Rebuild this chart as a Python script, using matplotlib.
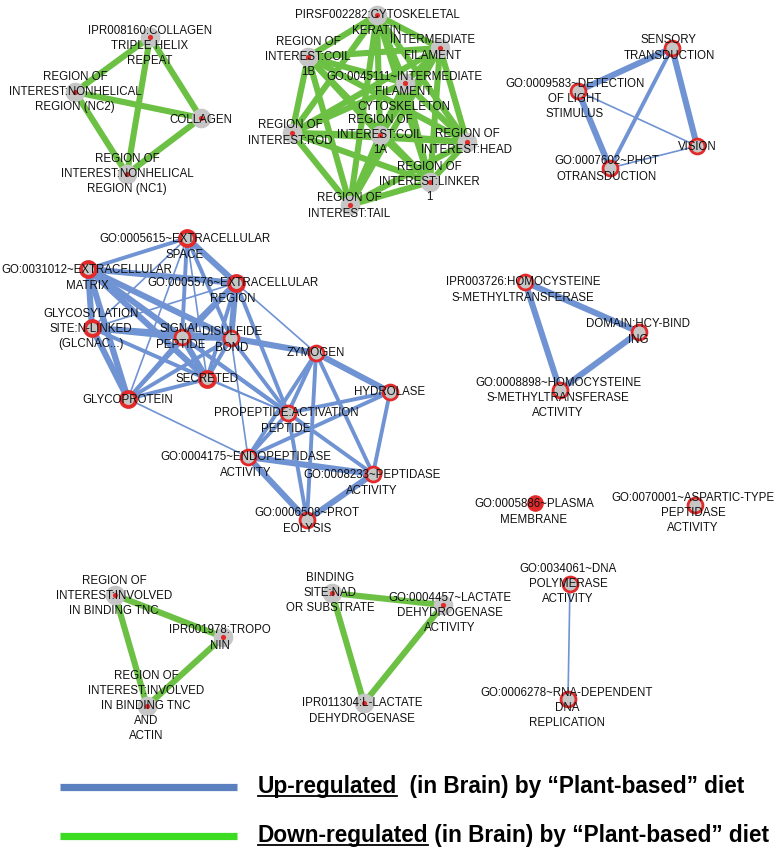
import matplotlib.pyplot as plt

W, H = 778, 849

# nodes: id, label text, node position, label centre (pixel layout of the network)
node_ids = [
    "coll_ipr", "nc2", "collagen", "nc1",
    "keratin", "intfil", "coil1b", "go45111", "rod", "coil1a", "head", "linker", "tail",
    "sensory", "detect", "vision", "photo",
    "space", "matrix", "region", "glycos", "signal", "disulf", "secreted", "glycoprot",
    "zymogen", "hydrolase", "propep", "endopep", "peptidase", "proteol",
    "ipr3726", "hcy", "go8898",
    "plasma", "aspartic",
    "tnc", "tropo", "tncactin",
    "nad", "ldhact", "ldh",
    "dnapol", "rnadep",
]
node_labels = [
    "IPR008160:COLLAGEN\nTRIPLE HELIX\nREPEAT", "REGION OF\nINTEREST:NONHELICAL\nREGION (NC2)",
    "COLLAGEN", "REGION OF\nINTEREST:NONHELICAL\nREGION (NC1)",
    "PIRSF002282:CYTOSKELETAL\nKERATIN", "INTERMEDIATE\nFILAMENT", "REGION OF\nINTEREST:COIL\n1B",
    "GO:0045111~INTERMEDIATE\nFILAMENT\nCYTOSKELETON", "REGION OF\nINTEREST:ROD",
    "REGION OF\nINTEREST:COIL\n1A", "REGION OF\nINTEREST:HEAD", "REGION OF\nINTEREST:LINKER\n1",
    "REGION OF\nINTEREST:TAIL",
    "SENSORY\nTRANSDUCTION", "GO:0009583~DETECTION\nOF LIGHT\nSTIMULUS", "VISION",
    "GO:0007602~PHOT\nOTRANSDUCTION",
    "GO:0005615~EXTRACELLULAR\nSPACE", "GO:0031012~EXTRACELLULAR\nMATRIX",
    "GO:0005576~EXTRACELLULAR\nREGION", "GLYCOSYLATION\nSITE:N-LINKED\n(GLCNAC...)",
    "SIGNAL\nPEPTIDE", "DISULFIDE\nBOND", "SECRETED", "GLYCOPROTEIN",
    "ZYMOGEN", "HYDROLASE", "PROPEPTIDE:ACTIVATION\nPEPTIDE", "GO:0004175~ENDOPEPTIDASE\nACTIVITY",
    "GO:0008233~PEPTIDASE\nACTIVITY", "GO:0006508~PROT\nEOLYSIS",
    "IPR003726:HOMOCYSTEINE\nS-METHYLTRANSFERASE", "DOMAIN:HCY-BIND\nING",
    "GO:0008898~HOMOCYSTEINE\nS-METHYLTRANSFERASE\nACTIVITY",
    "GO:0005886~PLASMA\nMEMBRANE", "GO:0070001~ASPARTIC-TYPE\nPEPTIDASE\nACTIVITY",
    "REGION OF\nINTEREST:INVOLVED\nIN BINDING TNC", "IPR001978:TROPO\nNIN",
    "REGION OF\nINTEREST:INVOLVED\nIN BINDING TNC\nAND\nACTIN",
    "BINDING\nSITE:NAD\nOR SUBSTRATE", "GO:0004457~LACTATE\nDEHYDROGENASE\nACTIVITY",
    "IPR011304:L-LACTATE\nDEHYDROGENASE",
    "GO:0034061~DNA\nPOLYMERASE\nACTIVITY", "GO:0006278~RNA-DEPENDENT\nDNA\nREPLICATION",
]
node_x = [150, 75, 201, 127,
          377, 440, 308, 405, 292, 380, 467, 430, 350,
          672, 578, 697, 610,
          187, 88, 236, 92, 182, 231, 207, 128,
          316, 390, 288, 248, 373, 307,
          525, 639, 560,
          535, 695,
          115, 223, 147,
          332, 443, 364,
          570, 568]
node_y = [37, 92, 118, 174,
          15, 48, 57, 83, 133, 135, 142, 182, 205,
          48, 91, 146, 168,
          238, 269, 283, 328, 337, 338, 379, 399,
          353, 392, 413, 457, 474, 520,
          282, 332, 390,
          503, 505,
          595, 637, 706,
          593, 605, 703,
          584, 699]
label_x = [150, 75, 201, 127,
           377, 433, 308, 404, 290, 380, 467, 429, 349,
           669, 575, 697, 607,
           185, 87, 233, 91, 181, 232, 207, 128,
           316, 390, 286, 246, 372, 307,
           523, 638, 558,
           534, 693,
           114, 220, 146,
           330, 450, 362,
           568, 567]
label_y = [46, 92, 120, 174,
           23, 48, 57, 92, 133, 135, 142, 182, 206,
           48, 99, 147, 169,
           247, 278, 291, 329, 337, 340, 379, 400,
           353, 392, 421, 465, 483, 521,
           290, 332, 398,
           512, 513,
           596, 638, 706,
           593, 613, 711,
           584, 708]
# regulation direction of each node's cluster
up_nodes = {"sensory", "detect", "vision", "photo", "space", "matrix", "region", "glycos",
            "signal", "disulf", "secreted", "glycoprot", "zymogen", "hydrolase", "propep",
            "endopep", "peptidase", "proteol", "ipr3726", "hcy", "go8898", "plasma",
            "aspartic", "dnapol", "rnadep"}
heavy_ring = {"glycos", "glycoprot", "matrix", "secreted", "space", "region"}
solid_red = {"plasma"}

# edges: (a, b, strength 1=thin 2=medium 3=thick)
edges_up = [
    ("sensory", "detect", 3), ("sensory", "photo", 2), ("sensory", "vision", 3),
    ("detect", "photo", 3), ("detect", "vision", 1), ("photo", "vision", 1),
    ("space", "matrix", 2), ("space", "region", 3), ("space", "signal", 2), ("space", "disulf", 2),
    ("space", "secreted", 1), ("space", "glycoprot", 1), ("space", "glycos", 1),
    ("matrix", "region", 3), ("matrix", "glycos", 3), ("matrix", "glycoprot", 3),
    ("matrix", "signal", 3), ("matrix", "disulf", 3), ("matrix", "secreted", 3), ("matrix", "propep", 2),
    ("glycos", "signal", 3), ("glycos", "disulf", 3), ("glycos", "secreted", 2),
    ("glycos", "glycoprot", 3), ("glycos", "region", 1), ("glycos", "propep", 1),
    ("signal", "disulf", 3), ("signal", "secreted", 3), ("signal", "region", 3),
    ("signal", "glycoprot", 2), ("signal", "propep", 2),
    ("disulf", "zymogen", 3), ("disulf", "secreted", 2), ("disulf", "region", 3),
    ("disulf", "glycoprot", 2), ("disulf", "propep", 2), ("disulf", "endopep", 1),
    ("region", "secreted", 2), ("region", "glycoprot", 2), ("region", "propep", 2), ("region", "zymogen", 1),
    ("secreted", "glycoprot", 2), ("secreted", "propep", 1), ("glycoprot", "endopep", 1),
    ("zymogen", "hydrolase", 3), ("zymogen", "propep", 2), ("zymogen", "endopep", 2),
    ("zymogen", "peptidase", 2), ("zymogen", "proteol", 2),
    ("hydrolase", "propep", 2), ("hydrolase", "endopep", 2), ("hydrolase", "peptidase", 2),
    ("propep", "endopep", 2), ("propep", "peptidase", 2), ("propep", "proteol", 2),
    ("endopep", "peptidase", 3), ("endopep", "proteol", 3), ("peptidase", "proteol", 3),
    ("ipr3726", "hcy", 3), ("ipr3726", "go8898", 3), ("hcy", "go8898", 3),
    ("dnapol", "rnadep", 1),
]
keratin_ids = ["keratin", "intfil", "coil1b", "go45111", "rod", "coil1a", "head", "linker", "tail"]
collagen_ids = ["coll_ipr", "nc2", "collagen", "nc1"]
edges_down = [(a, b, 3) for grp in (keratin_ids, collagen_ids)
              for i, a in enumerate(grp) for b in grp[i + 1:]]
edges_down += [("tnc", "tropo", 3), ("tnc", "tncactin", 3), ("tropo", "tncactin", 3),
               ("nad", "ldhact", 3), ("nad", "ldh", 3), ("ldhact", "ldh", 3)]

legend_labels = [("Up-regulated", "  (in Brain) by \u201cPlant-based\u201d diet"),
                 ("Down-regulated", " (in Brain) by \u201cPlant-based\u201d diet")]

blue = "#7093d3"
green = "#6cc145"
red = "#e22a2a"
gray = "#c6c6c6"
widths = {1: 1.2, 2: 2.8, 3: 4.4}

fig = plt.figure(figsize=(W / 100, H / 100), dpi=100)
ax = fig.add_axes([0, 0, 1, 1])
ax.set_xlim(0, W)
ax.set_ylim(H, 0)
ax.axis("off")

pos = {k: (x, y) for k, x, y in zip(node_ids, node_x, node_y)}

for edges, col in ((edges_down, green), (edges_up, blue)):
    for a, b, s in edges:
        ax.plot([pos[a][0], pos[b][0]], [pos[a][1], pos[b][1]], color=col,
                lw=widths[s], solid_capstyle="butt", zorder=1)

for k, x, y in zip(node_ids, node_x, node_y):
    if k in up_nodes:
        if k in solid_red:
            ax.scatter(x, y, s=120, color=red, zorder=2)
        else:
            lw = 2.8 if k in heavy_ring else 2.0
            ax.scatter(x, y, s=115, facecolor=gray, edgecolor=red, linewidths=lw, zorder=2)
    else:
        ax.scatter(x, y, s=200, color=gray, linewidths=0, zorder=2)
        ax.scatter(x, y, s=14, color=red, linewidths=0, zorder=2)

for lab, lx, ly in zip(node_labels, label_x, label_y):
    ax.text(lx, ly, lab, ha="center", va="center", fontsize=8.3, family="Liberation Sans",
            linespacing=1.36, color="#111111", zorder=3)

# legend
leg_y = [787, 836]
leg_col = ["#5a80c0", "#3cdc22"]
fig.canvas.draw()
renderer = fig.canvas.get_renderer()
inv = ax.transData.inverted()
for (head, tail), y, col in zip(legend_labels, leg_y, leg_col):
    ax.plot([60, 237], [y, y], color=col, lw=5.2, solid_capstyle="butt")
    base = y + 6
    t = ax.text(258, base, head, ha="left", va="baseline", fontsize=16.3, fontweight="bold",
                family="Liberation Sans")
    bb = t.get_window_extent(renderer)
    x0, _ = inv.transform((bb.x0, bb.y0))
    x1, _ = inv.transform((bb.x1, bb.y1))
    ax.plot([x0, x1], [base + 2.5, base + 2.5], color="black", lw=1.3)
    ax.text(x1, base, tail, ha="left", va="baseline", fontsize=16.3, fontweight="bold",
            family="Liberation Sans")

fig.savefig("out.png", dpi=100)
